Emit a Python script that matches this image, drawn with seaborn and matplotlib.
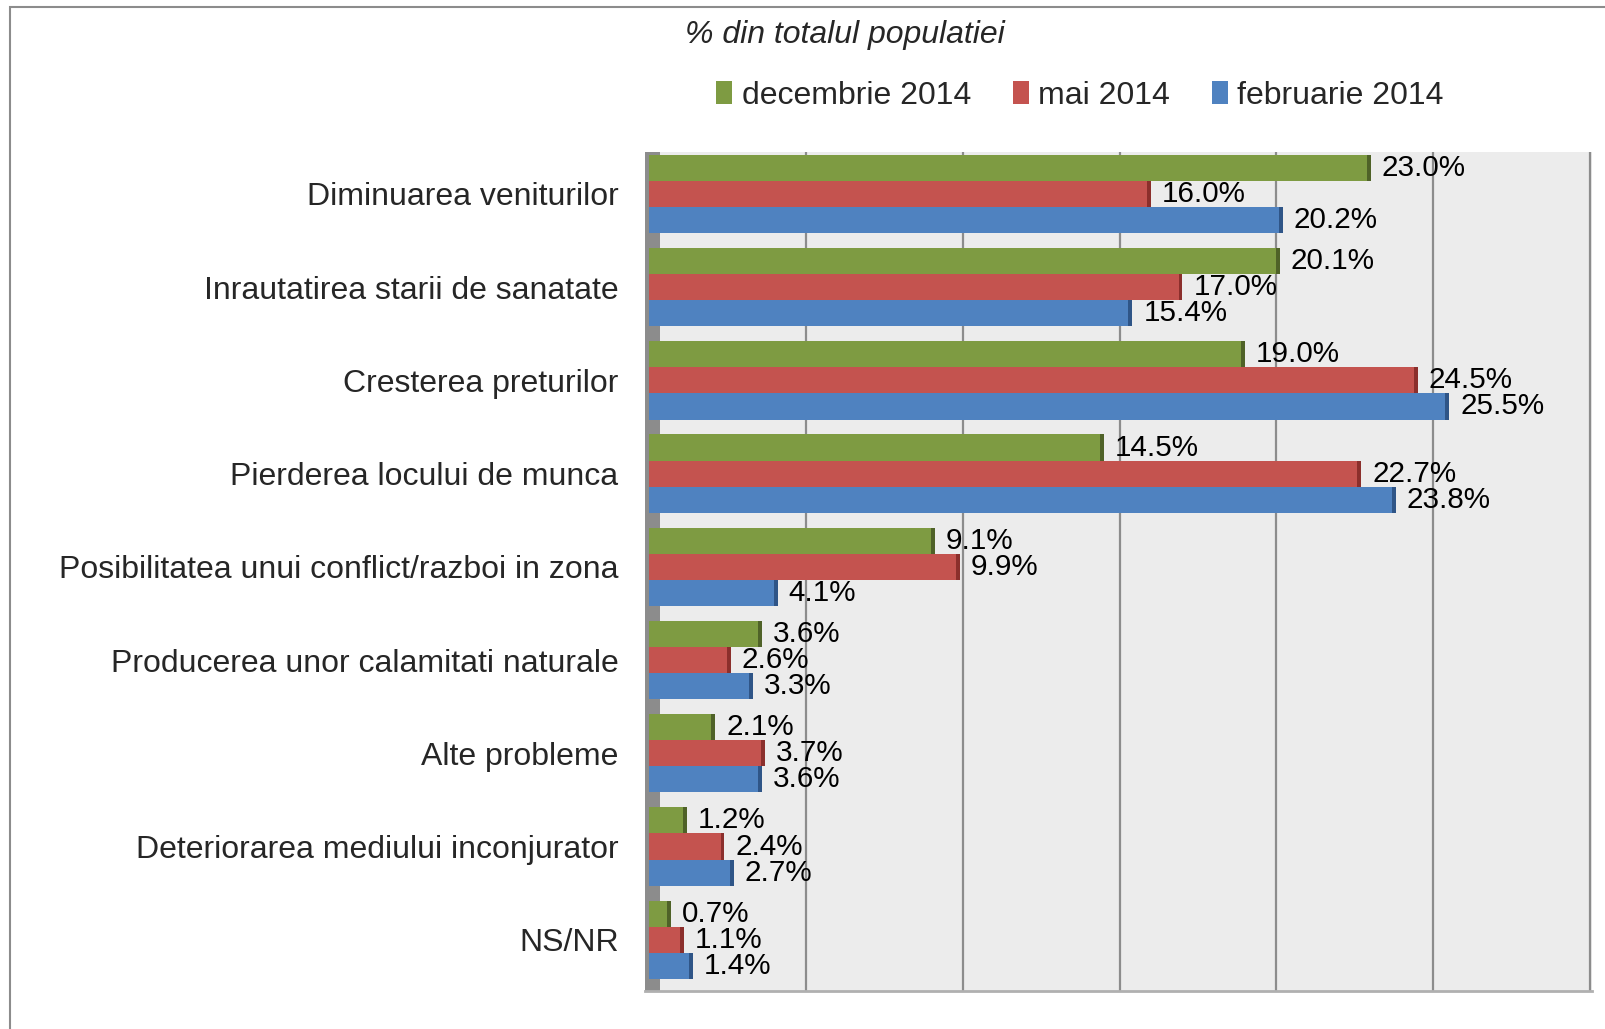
import matplotlib
matplotlib.use("Agg")
import numpy as np
import pandas as pd
import seaborn as sns
import matplotlib.pyplot as plt
from matplotlib.patches import Patch, Rectangle

# ---- data ----
categories = [
    "Diminuarea veniturilor",
    "Inrautatirea starii de sanatate",
    "Cresterea preturilor",
    "Pierderea locului de munca",
    "Posibilitatea unui conflict/razboi in zona",
    "Producerea unor calamitati naturale",
    "Alte probleme",
    "Deteriorarea mediului inconjurator",
    "NS/NR",
]
decembrie_2014 = [23.0, 20.1, 19.0, 14.5, 9.1, 3.6, 2.1, 1.2, 0.7]
mai_2014 = [16.0, 17.0, 24.5, 22.7, 9.9, 2.6, 3.7, 2.4, 1.1]
februarie_2014 = [20.2, 15.4, 25.5, 23.8, 4.1, 3.3, 3.6, 2.7, 1.4]
series_names = ["decembrie 2014", "mai 2014", "februarie 2014"]
title_text = "% din totalul populatiei"

colors = ["#7E9B42", "#C4534F", "#4F82C0"]
cap_colors = ["#4F6228", "#8B2F2C", "#2F5587"]

sns.set_theme(style="white")
plt.rcParams["font.family"] = ["Liberation Sans", "DejaVu Sans"]

rows = []
for name, vals in zip(series_names, [decembrie_2014, mai_2014, februarie_2014]):
    for c, v in zip(categories, vals):
        rows.append({"cat": c, "val": v, "series": name})
df = pd.DataFrame(rows)

fig = plt.figure(figsize=(16.06, 10.29), dpi=100)
ax = fig.add_axes([0.4016, 0.0369, 0.5897, 0.8154])
ax.set_facecolor("#ECECEC")

sns.barplot(data=df, y="cat", x="val", hue="series", hue_order=series_names,
            order=categories, palette=colors, width=0.84, orient="h", ax=ax,
            legend=False, saturation=1, linewidth=0, edgecolor="none")

# darker end caps (3D look)
for cont, cc in zip(ax.containers, cap_colors):
    for p in cont.patches:
        x1 = p.get_x() + p.get_width()
        ax.add_patch(Rectangle((x1 - 0.12, p.get_y()), 0.12, p.get_height(),
                               facecolor=cc, edgecolor="none", zorder=1.5))

for cont in ax.containers:
    ax.bar_label(cont, fmt="%.1f%%", padding=8, fontsize=21.3, color="black")

ax.set_xlim(-0.13, 30.06)
ax.set_ylim(8.55, -0.45)
ax.set_xticks(np.arange(0, 31, 5))
ax.set_xticklabels([])
ax.tick_params(axis="x", length=0)
ax.tick_params(axis="y", length=0, pad=19, labelsize=23)
ax.set_xlabel("")
ax.set_ylabel("")
ax.grid(axis="x", color="#8C8C8C", linewidth=1.6)
ax.grid(axis="y", visible=False)
ax.set_axisbelow(True)
ax.axvspan(-0.13, 0.35, color="#8C8C8C", zorder=0.8, linewidth=0)
for s in ["top", "right", "left"]:
    ax.spines[s].set_visible(False)
ax.spines["bottom"].set_color("#B0B0B0")
ax.spines["bottom"].set_linewidth(2)

# outer frame
fig.add_artist(Rectangle((10 / 1606, -0.1), 1.2, 1 - 7 / 1029 + 0.1,
                         transform=fig.transFigure, fill=False,
                         edgecolor="#8C8C8C", linewidth=1.5))

handles = [Patch(facecolor=c, edgecolor="none") for c in colors]
fig.legend(handles, series_names, loc="center", bbox_to_anchor=(0.6725, 0.907),
           ncol=3, frameon=False, fontsize=23, handlelength=0.5, handleheight=0.7,
           handletextpad=0.3, columnspacing=1.3)

fig.text(0.526, 0.966, title_text, ha="center", va="center", style="italic", fontsize=23)

fig.savefig("out.png", dpi=100)
